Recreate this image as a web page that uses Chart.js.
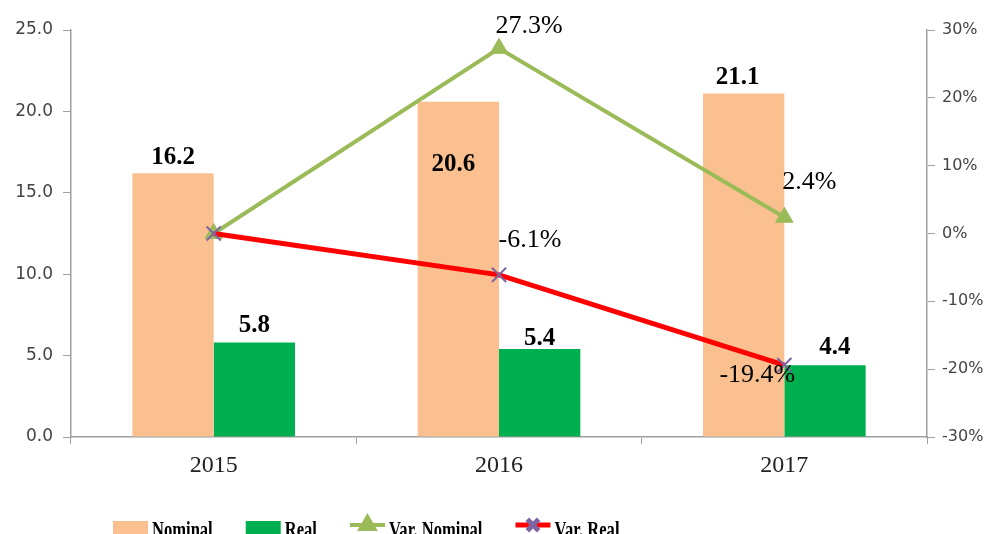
<!DOCTYPE html>
<html>
<head>
<meta charset="utf-8">
<script src="https://cdn.jsdelivr.net/npm/chart.js@4.4.1/dist/chart.umd.min.js"></script>
<style>
  html, body { margin: 0; padding: 0; background: #fff; overflow: hidden; }
</style>
</head>
<body>
<canvas id="chart" width="992" height="534"></canvas>
<script>
// ---------- Data ----------
const years = ["2015", "2016", "2017"];
const nominal = [16.2, 20.6, 21.1];
const real = [5.8, 5.4, 4.4];
const varNominal = [0, 27.3, 2.4];
const varReal = [0, -6.1, -19.4];
const leftTicks = [0, 5, 10, 15, 20, 25];
const rightTicks = [-30, -20, -10, 0, 10, 20, 30];

// label offsets from bar top / point (null = no label)
const labelOffsets = [
  [[0, -16], [-5, 63], [-6, -16]],
  [[0, -17], [0, -11], [10, -18]],
  [null, [30, -22], [25, -35]],
  [null, [31, -35], [-27, 10]],
];

const SERIF = "'Liberation Serif', 'Times New Roman', serif";
const SANS = "'DejaVu Sans', Verdana, sans-serif";
const AXIS = "#a0a0a0";

// ---------- Plugins ----------
const valueLabels = {
  id: "valueLabels",
  afterDatasetsDraw(chart) {
    const ctx = chart.ctx;
    ctx.save();
    ctx.textAlign = "center";
    ctx.textBaseline = "middle";
    ctx.fillStyle = "#000";
    chart.data.datasets.forEach((ds, i) => {
      const meta = chart.getDatasetMeta(i);
      const offs = labelOffsets[i];
      meta.data.forEach((el, j) => {
        if (!offs[j]) return;
        const isBar = ds.type === "bar";
        ctx.font = isBar ? "bold 25px " + SERIF : "26px " + SERIF;
        const txt = ds.data[j].toFixed(1) + (isBar ? "" : "%");
        ctx.fillText(txt, el.x + offs[j][0], el.y + offs[j][1]);
      });
    });
    ctx.restore();
  },
};

// legend sits at the bottom edge, partly cut off like the original
const bottomLegend = {
  id: "bottomLegend",
  afterDraw(chart) {
    const ctx = chart.ctx;
    const y = 525;
    const squeeze = 0.72;
    let x = 113;
    ctx.save();
    ctx.font = "bold 23px " + SERIF;
    ctx.textBaseline = "alphabetic";
    chart.data.datasets.forEach((ds) => {
      if (ds.type === "bar") {
        ctx.fillStyle = ds.backgroundColor;
        ctx.fillRect(x, 521, 35, 16);
      } else {
        ctx.strokeStyle = ds.borderColor;
        ctx.lineWidth = ds.borderWidth;
        ctx.beginPath();
        ctx.moveTo(x, y);
        ctx.lineTo(x + 35, y);
        ctx.stroke();
        ctx.fillStyle = ds.pointBackgroundColor;
        ctx.strokeStyle = ds.pointBorderColor;
        Chart.helpers.drawPoint(ctx, {
          pointStyle: ds.pointStyle,
          radius: 8,
          borderWidth: ds.pointBorderWidth,
          rotation: 0,
        }, x + 17.5, y);
      }
      ctx.fillStyle = "#000";
      const w = ctx.measureText(ds.label).width * squeeze;
      ctx.save();
      ctx.translate(x + 39, 537);
      ctx.scale(squeeze, 1);
      ctx.fillText(ds.label, 0, 0);
      ctx.restore();
      x += 39 + w + 33;
    });
    ctx.restore();
  },
};

// ---------- Chart ----------
new Chart(document.getElementById("chart"), {
  data: {
    labels: years,
    datasets: [
      {
        type: "bar",
        label: "Nominal",
        data: nominal,
        backgroundColor: "#fac090",
        yAxisID: "y",
        order: 2,
      },
      {
        type: "bar",
        label: "Real",
        data: real,
        backgroundColor: "#00b050",
        yAxisID: "y",
        order: 2,
      },
      {
        type: "line",
        label: "Var. Nominal",
        data: varNominal,
        borderColor: "#9bbb59",
        borderWidth: 4,
        pointStyle: "triangle",
        pointRadius: 10,
        pointBackgroundColor: "#9bbb59",
        pointBorderColor: "#9bbb59",
        pointBorderWidth: 1,
        yAxisID: "y1",
        order: 1,
      },
      {
        type: "line",
        label: "Var. Real",
        data: varReal,
        borderColor: "#ff0000",
        borderWidth: 5,
        pointStyle: "crossRot",
        pointRadius: 10,
        pointBackgroundColor: "#8064a2",
        pointBorderColor: "#8064a2",
        pointBorderWidth: 2,
        yAxisID: "y1",
        order: 0,
      },
    ],
  },
  options: {
    responsive: false,
    animation: false,
    devicePixelRatio: 1,
    layout: { padding: { top: 30, left: 0, right: 0, bottom: 0 } },
    datasets: { bar: { barPercentage: 1, categoryPercentage: 0.57 } },
    plugins: { legend: { display: false }, tooltip: { enabled: false } },
    scales: {
      x: {
        grid: { drawOnChartArea: false, tickLength: 7, color: AXIS },
        border: { color: AXIS, width: 1.5 },
        ticks: { font: { family: SERIF, size: 24 }, color: "#222", padding: 7 },
        afterFit(s) { s.height = 97; },
      },
      y: {
        position: "left",
        min: 0,
        max: 25,
        grid: { drawOnChartArea: false, tickLength: 8, color: AXIS },
        border: { color: AXIS, width: 1.5 },
        ticks: {
          font: { family: SANS, size: 17 },
          color: "#444",
          padding: 10,
          callback: (v) => Number(v).toFixed(1),
        },
        afterBuildTicks(s) { s.ticks = leftTicks.map((v) => ({ value: v })); },
        afterFit(s) { s.width = 71; },
      },
      y1: {
        position: "right",
        min: -30,
        max: 30,
        grid: { drawOnChartArea: false, tickLength: 8, color: AXIS },
        border: { color: AXIS, width: 1.5 },
        ticks: {
          font: { family: SANS, size: 16 },
          color: "#444",
          padding: 7,
          callback: (v) => v + "%",
        },
        afterBuildTicks(s) { s.ticks = rightTicks.map((v) => ({ value: v })); },
        afterFit(s) { s.width = 65; },
      },
    },
  },
  plugins: [valueLabels, bottomLegend],
});
</script>
</body>
</html>
